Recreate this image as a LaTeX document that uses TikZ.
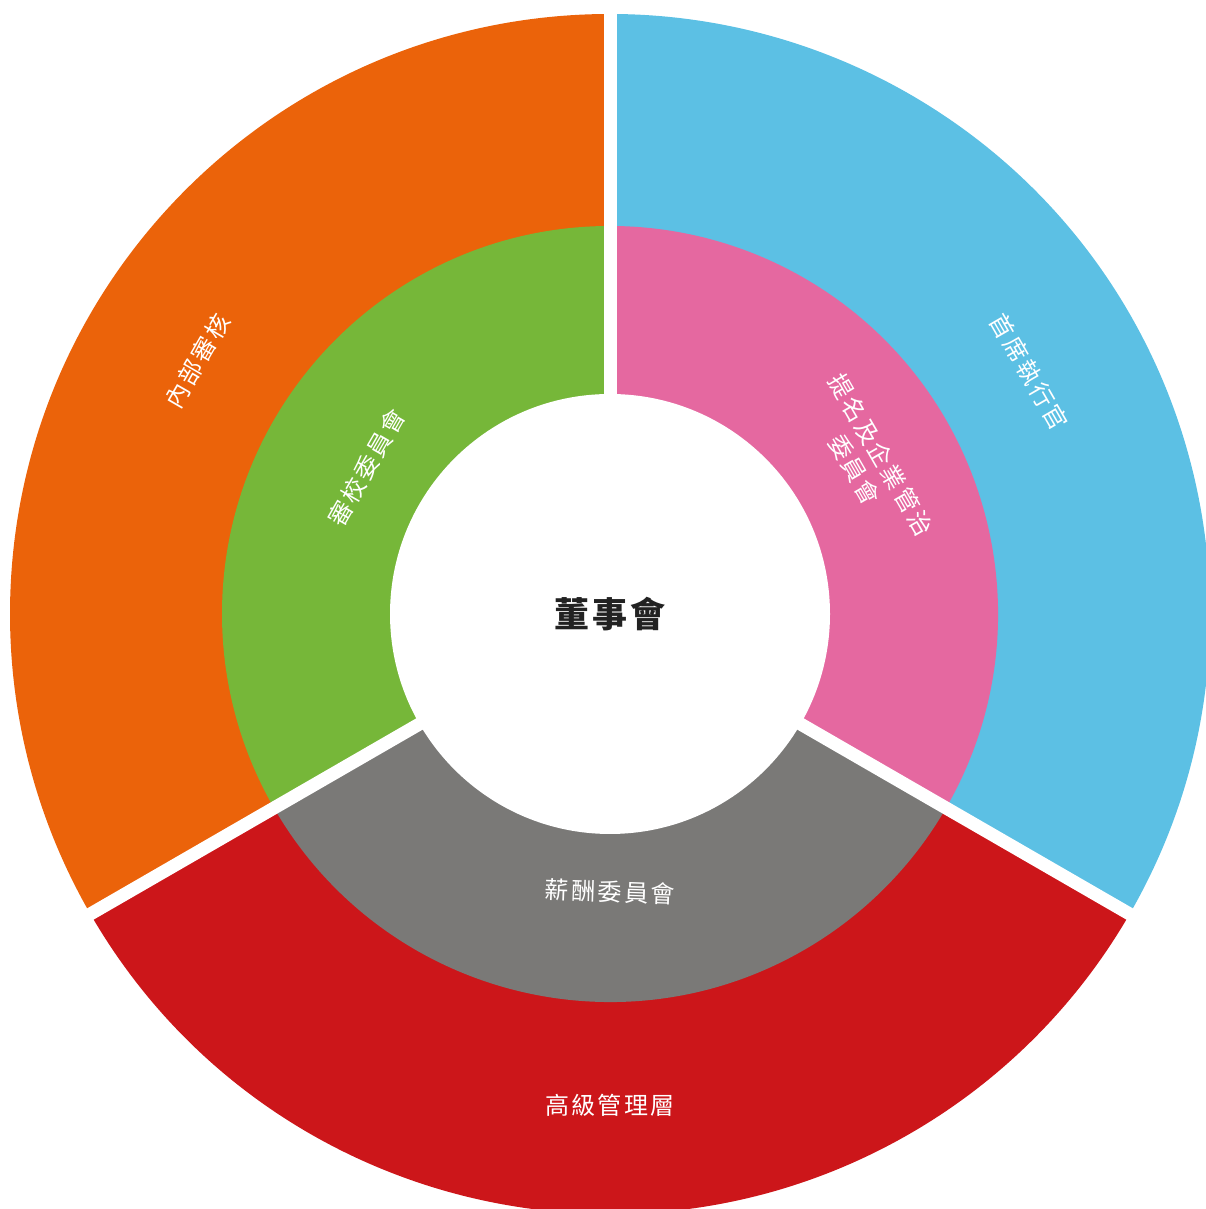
\documentclass[tikz,border=0pt]{standalone}
\usepackage{fontspec}
\usetikzlibrary{calc}
\setmainfont{Noto Sans CJK TC}
\definecolor{corange}{HTML}{EB630A}
\definecolor{cblue}{HTML}{5CC0E4}
\definecolor{cpink}{HTML}{E568A0}
\definecolor{cgreen}{HTML}{76B739}
\definecolor{cred}{HTML}{CC161A}
\definecolor{cgray}{HTML}{7A7977}
\definecolor{cdark}{HTML}{222222}
\tikzset{
  lbl/.style={text=white, font=\fontsize{24}{30}\selectfont\addfontfeatures{LetterSpace=10}, inner sep=0pt, align=center},
  sep/.style={white, line width=13pt},
}
\begin{document}
\begin{tikzpicture}[x=1pt,y=1pt]
\useasboundingbox (0,0) rectangle (1206,1209);
\coordinate (c) at (610,595);
% outer ring
\fill[corange] (c) -- ++(90:600) arc[start angle=90,end angle=210,radius=600] -- cycle;
\fill[cblue] (c) -- ++(-30:600) arc[start angle=-30,end angle=90,radius=600] -- cycle;
\fill[cred] (c) -- ++(210:600) arc[start angle=210,end angle=330,radius=600] -- cycle;
% middle ring
\fill[cgreen] (c) -- ++(90:388) arc[start angle=90,end angle=210,radius=388] -- cycle;
\fill[cpink] (c) -- ++(-30:388) arc[start angle=-30,end angle=90,radius=388] -- cycle;
\fill[cgray] (c) -- ++(210:388) arc[start angle=210,end angle=330,radius=388] -- cycle;
% separators
\draw[sep] (c) -- ++(90:620);
\draw[sep] (c) -- ++(210:620);
\draw[sep] (c) -- ++(330:620);
\fill[white] (c) circle[radius=220];
% labels
\node[lbl, rotate=-60] (ceo) at ($(c)+(30:484)$) {首席執行官};
\node[lbl, rotate=60] (audit) at ($(c)+(148.5:484)$) {內部審核};
\node[lbl] (mgmt) at ($(c)+(-90:491)$) {高級管理層};
\node[lbl, rotate=-60] (nom) at ($(c)+(30.5:299)$) {提名及企業管治\\委員會};
\node[lbl, rotate=60] (ac) at ($(c)+(149:284)$) {審校委員會};
\node[lbl, rotate=-2] (rem) at ($(c)+(-90:278)$) {薪酬委員會};
\node[text=cdark, font=\fontsize{35}{40}\selectfont\bfseries\addfontfeatures{LetterSpace=8}, inner sep=0pt] (board) at ($(c)+(0,0)$) {董事會};
\end{tikzpicture}
\end{document}
